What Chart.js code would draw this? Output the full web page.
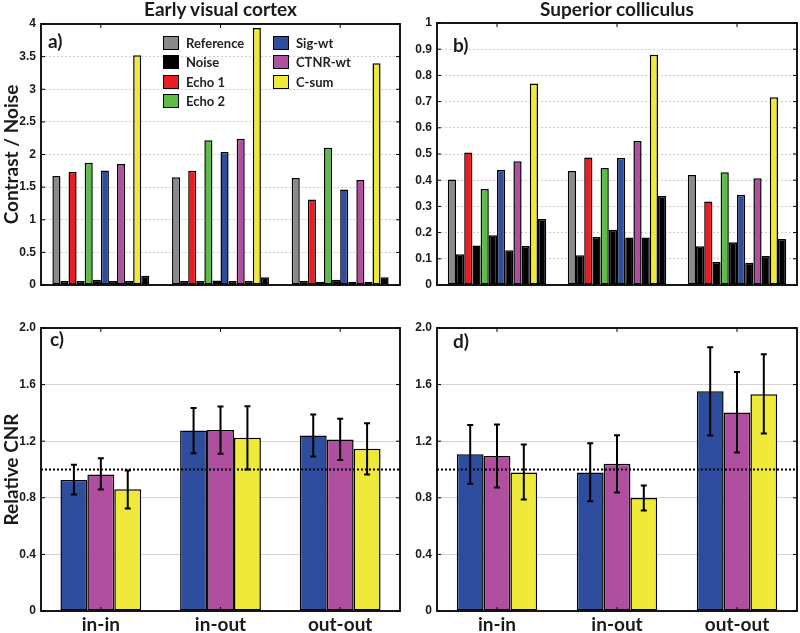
<!DOCTYPE html>
<html>
<head>
<meta charset="utf-8">
<script src="https://cdn.jsdelivr.net/npm/chart.js@4.4.0/dist/chart.umd.min.js"></script>
<style>
  body { margin: 0; background: #fff; }
  #fig { position: relative; width: 800px; height: 633px; overflow: hidden; background: #fff; }
  .panel { position: absolute; }
  .ttl { position: absolute; font-family: Lato, sans-serif; font-weight: bold; font-size: 19px; color: #1a1a1a; text-align: center; line-height: 20px; }
  .lbl { position: absolute; font-family: Lato, sans-serif; font-weight: bold; font-size: 19px; color: #1a1a1a; line-height: 20px; }
  .leg { position: absolute; font-family: Lato, sans-serif; font-weight: bold; font-size: 13px; color: #222; line-height: 16px; white-space: nowrap; }
  .leg span { position: absolute; left: -23px; top: 1px; width: 14px; height: 12px; border: 1.5px solid #000; }
</style>
</head>
<body>
<div id="fig">
  <div class="panel" style="left:0;top:0;width:402px;height:310px"><canvas id="chartA"></canvas></div>
  <div class="panel" style="left:400px;top:0;width:400px;height:310px"><canvas id="chartB"></canvas></div>
  <div class="panel" style="left:0;top:310px;width:402px;height:323px"><canvas id="chartC"></canvas></div>
  <div class="panel" style="left:400px;top:310px;width:400px;height:323px"><canvas id="chartD"></canvas></div>

  <div class="ttl" style="left:41px;top:-1px;width:359px">Early visual cortex</div>
  <div class="ttl" style="left:437px;top:-1px;width:360px">Superior colliculus</div>

  <div class="lbl" style="left:48px;top:31px">a)</div>
  <div class="lbl" style="left:453px;top:35px">b)</div>
  <div class="lbl" style="left:50px;top:329px">c)</div>
  <div class="lbl" style="left:453px;top:331px">d)</div>

  <div id="legend"></div>
</div>

<script>
var groups = ['in-in', 'in-out', 'out-out'];

// a) early visual cortex, contrast / noise
var evcReference      = [1.67, 1.65, 1.64];
var evcReferenceNoise = [0.06, 0.06, 0.06];
var evcEcho1          = [1.73, 1.75, 1.31];
var evcEcho1Noise     = [0.06, 0.06, 0.05];
var evcEcho2          = [1.875, 2.22, 2.105];
var evcEcho2Noise     = [0.08, 0.07, 0.08];
var evcSigWt          = [1.755, 2.04, 1.465];
var evcSigWtNoise     = [0.06, 0.06, 0.05];
var evcCtnrWt         = [1.855, 2.24, 1.61];
var evcCtnrWtNoise    = [0.06, 0.06, 0.05];
var evcCSum           = [3.52, 3.94, 3.40];
var evcCSumNoise      = [0.14, 0.12, 0.12];

// b) superior colliculus, contrast / noise
var scReference      = [0.403, 0.435, 0.42];
var scReferenceNoise = [0.117, 0.114, 0.148];
var scEcho1          = [0.506, 0.487, 0.319];
var scEcho1Noise     = [0.151, 0.183, 0.088];
var scEcho2          = [0.366, 0.447, 0.43];
var scEcho2Noise     = [0.19, 0.211, 0.163];
var scSigWt          = [0.439, 0.485, 0.344];
var scSigWtNoise     = [0.133, 0.181, 0.085];
var scCtnrWt         = [0.472, 0.55, 0.407];
var scCtnrWtNoise    = [0.149, 0.181, 0.111];
var scCSum           = [0.769, 0.879, 0.717];
var scCSumNoise      = [0.252, 0.34, 0.176];

// c) early visual cortex, relative CNR (mean, error low, error high)
var evcCnrSigWt      = [0.925, 1.275, 1.24];
var evcCnrSigWtLo    = [0.824, 1.115, 1.092];
var evcCnrSigWtHi    = [1.033, 1.435, 1.388];
var evcCnrCtnrWt     = [0.965, 1.28, 1.212];
var evcCnrCtnrWtLo   = [0.859, 1.111, 1.068];
var evcCnrCtnrWtHi   = [1.08, 1.445, 1.358];
var evcCnrCSum       = [0.861, 1.224, 1.146];
var evcCnrCSumLo     = [0.725, 1.0, 0.965];
var evcCnrCSumHi     = [0.993, 1.447, 1.327];

// d) superior colliculus, relative CNR
var scCnrSigWt       = [1.108, 0.979, 1.553];
var scCnrSigWtLo     = [0.899, 0.776, 1.24];
var scCnrSigWtHi     = [1.315, 1.186, 1.864];
var scCnrCtnrWt      = [1.096, 1.04, 1.402];
var scCnrCtnrWtLo    = [0.873, 0.838, 1.12];
var scCnrCtnrWtHi    = [1.318, 1.242, 1.689];
var scCnrCSum        = [0.979, 0.798, 1.532];
var scCnrCSumLo      = [0.788, 0.711, 1.254];
var scCnrCSumHi      = [1.176, 0.887, 1.814];

var cnrReference = 1.0;

var ticksA = ['0', '0.5', '1', '1.5', '2', '2.5', '3', '3.5', '4'];
var ticksB = ['0', '0.1', '0.2', '0.3', '0.4', '0.5', '0.6', '0.7', '0.8', '0.9', '1'];
var ticksCnr = ['0', '0.4', '0.8', '1.2', '1.6', '2.0'];

var legendNames = ['Reference', 'Noise', 'Echo 1', 'Echo 2', 'Sig-wt', 'CTNR-wt', 'C-sum'];

var colors = {
  ref: '#8a8a8a', noise: '#000000', echo1: '#ec1c24', echo2: '#5dbb47',
  sig: '#2e4d9f', ctnr: '#b04ea0', csum: '#efe93a'
};

Chart.defaults.font.family = 'Liberation Sans';
Chart.defaults.color = '#1a1a1a';

// frame round the plot area, with inward ticks on each side
var framePlugin = {
  id: 'frame',
  afterDraw: function(chart) {
    var a = chart.chartArea, ctx = chart.ctx;
    var xs = chart.scales.x, ys = chart.scales.y;
    ctx.save();
    ctx.strokeStyle = '#000';
    ctx.lineWidth = 1;
    ctx.beginPath();
    xs.ticks.forEach(function(t, i) {
      var x = xs.getPixelForTick(i);
      ctx.moveTo(x, a.top); ctx.lineTo(x, a.top + 4);
      ctx.moveTo(x, a.bottom); ctx.lineTo(x, a.bottom - 4);
    });
    ys.ticks.forEach(function(t, i) {
      var y = ys.getPixelForTick(i);
      ctx.moveTo(a.right, y); ctx.lineTo(a.right - 4, y);
      ctx.moveTo(a.left, y); ctx.lineTo(a.left + 4, y);
    });
    ctx.stroke();
    ctx.lineWidth = 1.8;
    ctx.strokeRect(a.left, a.top, a.right - a.left, a.bottom - a.top);
    ctx.restore();
  }
};

// error bars and dotted reference line for the CNR panels
var errorPlugin = {
  id: 'errs',
  afterDatasetsDraw: function(chart) {
    var ctx = chart.ctx, ys = chart.scales.y, a = chart.chartArea;
    ctx.save();
    ctx.strokeStyle = '#000';
    ctx.lineWidth = 2;
    chart.data.datasets.forEach(function(ds, di) {
      if (!ds.lo) return;
      chart.getDatasetMeta(di).data.forEach(function(bar, i) {
        var yl = ys.getPixelForValue(ds.lo[i]), yh = ys.getPixelForValue(ds.hi[i]);
        ctx.beginPath();
        ctx.moveTo(bar.x, yl); ctx.lineTo(bar.x, yh);
        ctx.moveTo(bar.x - 3, yl); ctx.lineTo(bar.x + 3, yl);
        ctx.moveTo(bar.x - 3, yh); ctx.lineTo(bar.x + 3, yh);
        ctx.stroke();
      });
    });
    if (chart.options.refLine !== undefined) {
      var y = ys.getPixelForValue(chart.options.refLine);
      ctx.setLineDash([2, 2]);
      ctx.beginPath();
      ctx.moveTo(a.left, y); ctx.lineTo(a.right, y);
      ctx.stroke();
    }
    ctx.restore();
  }
};

function barSet(label, values, color, extra) {
  var ds = { label: label, data: values, backgroundColor: color, borderColor: '#000', borderWidth: 1.5, borderSkipped: false };
  if (extra) { ds.lo = extra.lo; ds.hi = extra.hi; }
  return ds;
}

function makeChart(id, datasets, opt) {
  var ctx = document.getElementById(id).getContext('2d');
  return new Chart(ctx, {
    type: 'bar',
    data: { labels: groups, datasets: datasets },
    plugins: [framePlugin, errorPlugin],
    options: {
      responsive: true,
      maintainAspectRatio: false,
      animation: false,
      refLine: opt.refLine,
      layout: { padding: opt.padding },
      datasets: { bar: { categoryPercentage: opt.catPct, barPercentage: 1 } },
      plugins: { legend: { display: false }, tooltip: { enabled: false } },
      scales: {
        x: {
          display: opt.showX,
          grid: { display: false, drawTicks: false },
          border: { display: false },
          ticks: { font: { family: 'Lato', weight: 'bold', size: 19 }, color: '#1a1a1a', padding: 2 },
          afterFit: function(s) { s.height = 22; }
        },
        y: {
          min: 0,
          max: opt.max,
          grid: { color: opt.gridColor, drawTicks: false },
          border: { display: false, dash: opt.gridDash },
          ticks: {
            stepSize: opt.step,
            padding: 5,
            font: { weight: 'bold', size: 12 },
            color: '#1a1a1a',
            callback: function(v, i) { return opt.tickLabels[i]; }
          },
          title: {
            display: !!opt.yTitle,
            text: opt.yTitle || '',
            font: { family: 'Lato', weight: 'bold', size: 19 },
            color: '#1a1a1a',
            padding: { top: 0, bottom: 0 }
          },
          afterFit: function(s) { s.width = opt.axisWidth; }
        }
      }
    }
  });
}

makeChart('chartA', [
  barSet('Reference', evcReference, colors.ref), barSet('Noise', evcReferenceNoise, colors.noise),
  barSet('Echo 1', evcEcho1, colors.echo1), barSet('Noise', evcEcho1Noise, colors.noise),
  barSet('Echo 2', evcEcho2, colors.echo2), barSet('Noise', evcEcho2Noise, colors.noise),
  barSet('Sig-wt', evcSigWt, colors.sig), barSet('Noise', evcSigWtNoise, colors.noise),
  barSet('CTNR-wt', evcCtnrWt, colors.ctnr), barSet('Noise', evcCtnrWtNoise, colors.noise),
  barSet('C-sum', evcCSum, colors.csum), barSet('Noise', evcCSumNoise, colors.noise)
], { showX: false, max: 4, step: 0.5, tickLabels: ticksA, yTitle: 'Contrast / Noise', axisWidth: 41,
     padding: { top: 24, bottom: 3, right: 2, left: 0 }, catPct: 0.81, gridColor: '#cdcdcd', gridDash: [2, 2] });

makeChart('chartB', [
  barSet('Reference', scReference, colors.ref), barSet('Noise', scReferenceNoise, colors.noise),
  barSet('Echo 1', scEcho1, colors.echo1), barSet('Noise', scEcho1Noise, colors.noise),
  barSet('Echo 2', scEcho2, colors.echo2), barSet('Noise', scEcho2Noise, colors.noise),
  barSet('Sig-wt', scSigWt, colors.sig), barSet('Noise', scSigWtNoise, colors.noise),
  barSet('CTNR-wt', scCtnrWt, colors.ctnr), barSet('Noise', scCtnrWtNoise, colors.noise),
  barSet('C-sum', scCSum, colors.csum), barSet('Noise', scCSumNoise, colors.noise)
], { showX: false, max: 1, step: 0.1, tickLabels: ticksB, axisWidth: 37,
     padding: { top: 23, bottom: 3, right: 3, left: 0 }, catPct: 0.82, gridColor: '#cdcdcd', gridDash: [2, 2] });

makeChart('chartC', [
  barSet('Sig-wt', evcCnrSigWt, colors.sig, { lo: evcCnrSigWtLo, hi: evcCnrSigWtHi }),
  barSet('CTNR-wt', evcCnrCtnrWt, colors.ctnr, { lo: evcCnrCtnrWtLo, hi: evcCnrCtnrWtHi }),
  barSet('C-sum', evcCnrCSum, colors.csum, { lo: evcCnrCSumLo, hi: evcCnrCSumHi })
], { showX: true, max: 2, step: 0.4, tickLabels: ticksCnr, yTitle: 'Relative CNR', axisWidth: 41, refLine: cnrReference,
     padding: { top: 18, bottom: 0, right: 2, left: 0 }, catPct: 0.675, gridColor: '#d4d4d4', gridDash: [] });

makeChart('chartD', [
  barSet('Sig-wt', scCnrSigWt, colors.sig, { lo: scCnrSigWtLo, hi: scCnrSigWtHi }),
  barSet('CTNR-wt', scCnrCtnrWt, colors.ctnr, { lo: scCnrCtnrWtLo, hi: scCnrCtnrWtHi }),
  barSet('C-sum', scCnrCSum, colors.csum, { lo: scCnrCSumLo, hi: scCnrCSumHi })
], { showX: true, max: 2, step: 0.4, tickLabels: ticksCnr, axisWidth: 37, refLine: cnrReference,
     padding: { top: 18, bottom: 0, right: 3, left: 0 }, catPct: 0.67, gridColor: '#d4d4d4', gridDash: [] });

// legend of panel a, two columns inside the plot
var legendColors = [colors.ref, colors.noise, colors.echo1, colors.echo2, colors.sig, colors.ctnr, colors.csum];
var legendPos = [[186, 35], [186, 54], [186, 73.5], [186, 93], [296, 35], [296, 54], [296, 73.5]];
var leg = document.getElementById('legend');
legendNames.forEach(function(name, i) {
  var d = document.createElement('div');
  d.className = 'leg';
  d.style.left = legendPos[i][0] + 'px';
  d.style.top = legendPos[i][1] + 'px';
  d.innerHTML = '<span style="background:' + legendColors[i] + '"></span>' + name;
  leg.appendChild(d);
});
</script>
</body>
</html>
